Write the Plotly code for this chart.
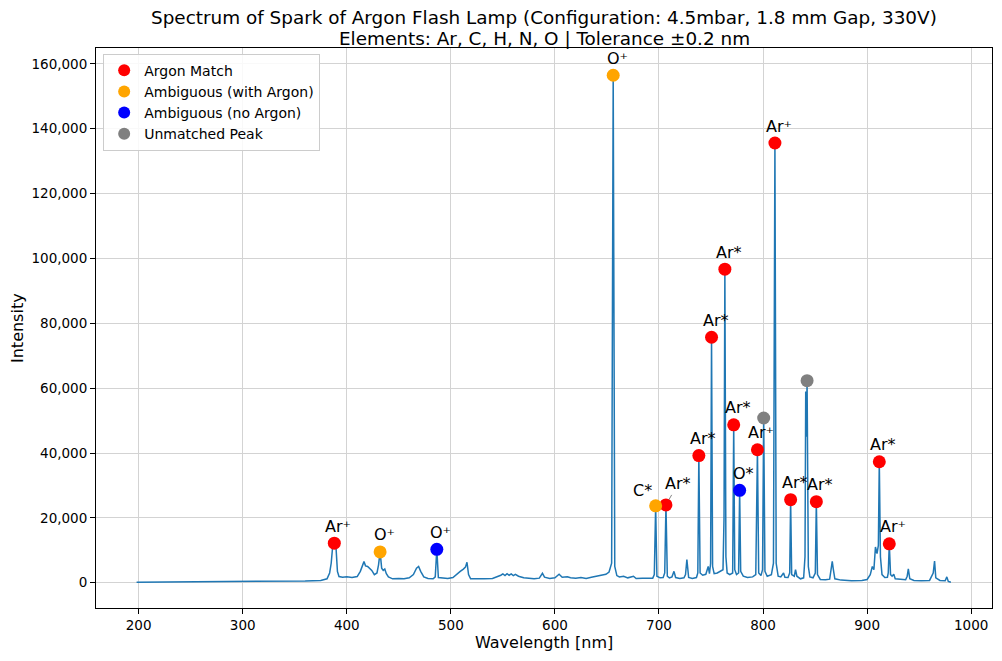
import plotly.graph_objects as go

# ---------------- spectrum ----------------
spectrum_wl = [
    198, 220, 250, 280, 310, 340, 360, 375, 381, 383.5, 385, 386.5, 388, 389.5, 391, 392.5,
    396, 400, 405, 410, 413, 416.5, 418, 420, 422, 424, 426.5, 429, 430.5, 432, 433.5, 435,
    436.5, 438, 440, 444, 450, 455, 460, 464, 467, 469, 471, 474, 478, 483, 485, 486.5, 488,
    492, 497, 502, 506, 509, 512, 514, 515.5, 517, 519, 525, 532, 540, 545, 548, 550, 552,
    554, 556, 558, 560, 562, 565, 570, 575, 580, 585, 588, 590, 595, 600, 604, 607, 612, 615,
    620, 625, 630, 635, 640, 645, 649, 652, 654.5, 656, 657.5, 659.5, 662, 666, 670, 675.5,
    678, 684, 690, 694, 695.5, 696.8, 698, 701, 704, 705.5, 706.7, 708, 710, 712.5, 714.4,
    716, 720, 724, 725.5, 726.8, 728.5, 732, 736, 737.3, 738.3, 739.5, 742, 745, 747.3,
    748.5, 749.6, 750.5, 751.5, 753, 756, 759, 761.5, 762.5, 763.3, 764.3, 765.5, 768,
    770.8, 771.8, 772.8, 774.5, 776.5, 777.5, 778.5, 781, 785, 790, 793, 794.6, 795.8, 798,
    799.5, 800.6, 801.8, 804, 808, 810, 811.4, 812.6, 814.5, 817, 819.7, 821, 824, 825.6,
    826.5, 827.5, 830, 831.2, 832.5, 836, 839, 840.3, 841.0, 841.6, 842.3, 843.5, 845, 848,
    850.2, 851.2, 852.3, 855, 860, 864, 865.5, 866.5, 867.5, 869, 875, 885, 895, 900, 903,
    905, 906.5, 908, 909.5, 910.8, 911.7, 912.8, 914.3, 917, 919.5, 920.3, 921.3, 922.5,
    924, 925.6, 927, 933, 937, 938.5, 939.6, 941, 945, 952, 960, 963.5, 964.8, 966, 970,
    975, 976.6, 978, 980.5,
]
spectrum_int = [
    150, 180, 220, 280, 350, 450, 550, 700, 1200, 3000, 6000, 11500, 12200, 11600, 3500, 1900,
    1700, 1800, 1600, 1900, 3500, 6500, 5200, 5000, 4300, 3800, 2500, 3000, 5500, 9500, 4500, 3800,
    4200, 2800, 1800, 1200, 1300, 1200, 1500, 2500, 4500, 5000, 3500, 1800, 1300, 1200, 1800, 10300, 1600,
    1400, 1300, 1600, 2800, 3500, 4200, 4800, 6300, 2500, 1200, 1100, 1200, 1300, 1800, 2300, 2700, 2200,
    2800, 2300, 2700, 2200, 2600, 2000, 1500, 1300, 1200, 1400, 2900, 1700, 1300, 1500, 2600, 1700, 1800, 1500,
    1400, 1600, 1300, 1700, 2000, 2300, 2600, 3300, 6000, 156500, 5000, 2200, 1800, 2000, 1500, 2000,
    1300, 1400, 1300, 1400, 2500, 23700, 2000, 1500, 1600, 3000, 24000, 2000, 1500, 1800, 3500,
    1600, 1300, 1500, 2500, 7100, 1600, 1300, 1600, 3000, 39200, 3000, 2300, 2600, 5000,
    2800, 6000, 75700, 5000, 2800, 3000, 3500, 4000, 20000, 96700, 8000, 3000, 2500,
    3000, 48700, 4000, 2500, 3000, 28500, 3500, 2000, 1600, 1800, 2500, 41000, 3000, 2200,
    4000, 50800, 3500, 2000, 2500, 6000, 135600, 6000, 2000, 1800, 3000, 1700, 1600, 3000,
    25600, 2500, 2000, 4000, 2000, 1200, 1500, 8000, 59000, 45000, 62300, 5000, 1800, 1500,
    3000, 25000, 2500, 1000, 900, 1100, 4000, 6600, 4200, 1200, 800, 600, 700, 1000, 2500,
    5000, 4000, 11000, 9000, 11500, 37300, 8000, 2500, 1600, 1700, 3000, 12000, 2500,
    2000, 2600, 1200, 1000, 900, 2000, 4300, 1200, 700, 600, 700, 3000, 6700, 1500, 700,
    600, 1800, 400, 150,
]

# ---------------- identified peaks ----------------
argon_wl = [388, 706.7, 738.3, 750.5, 763.3, 771.8, 794.6, 811.4, 826.5, 851.2, 911.7, 921.3]
argon_int = [12200, 24000, 39200, 75700, 96700, 48700, 41000, 135600, 25600, 25000, 37300, 12000]
argon_lbl = ["Ar⁺", "Ar*", "Ar*", "Ar*", "Ar*", "Ar*", "Ar⁺", "Ar⁺", "Ar*", "Ar*", "Ar*", "Ar⁺"]

amb_ar_wl = [432, 656, 696.8]
amb_ar_int = [9500, 156500, 23700]
amb_ar_lbl = ["O⁺", "O⁺", "C*"]

amb_noar_wl = [486.5, 777.5]
amb_noar_int = [10300, 28500]
amb_noar_lbl = ["O⁺", "O*"]

unmatched_wl = [800.6, 842.3]
unmatched_int = [50800, 62300]

x_ticks = [200, 300, 400, 500, 600, 700, 800, 900, 1000]
y_ticks = [0, 20000, 40000, 60000, 80000, 100000, 120000, 140000, 160000]

FONT = "DejaVu Sans"

fig = go.Figure()
fig.add_trace(go.Scatter(x=spectrum_wl, y=spectrum_int, mode="lines",
                         line=dict(color="#1f77b4", width=1.5), showlegend=False,
                         hoverinfo="skip"))

groups = [
    ("Argon Match", "#ff0000", argon_wl, argon_int),
    ("Ambiguous (with Argon)", "#ffa500", amb_ar_wl, amb_ar_int),
    ("Ambiguous (no Argon)", "#0000ff", amb_noar_wl, amb_noar_int),
    ("Unmatched Peak", "#808080", unmatched_wl, unmatched_int),
]
for name, col, wl, it in groups:
    fig.add_trace(go.Scatter(x=wl, y=it, mode="markers", name=name,
                             marker=dict(color=col, size=13, line=dict(width=0))))

# label offsets (px) – layout only
special = {696.8: (-13, 15)}
annotations = []
for wl, it, lbl in (list(zip(argon_wl, argon_int, argon_lbl)) +
                    list(zip(amb_ar_wl, amb_ar_int, amb_ar_lbl)) +
                    list(zip(amb_noar_wl, amb_noar_int, amb_noar_lbl))):
    if wl == 706.7:
        annotations.append(dict(x=wl, y=it, xref="x", yref="y", text=lbl,
                                showarrow=True, arrowhead=0, arrowwidth=0.8,
                                arrowcolor="#666666", ax=12, ay=-21, standoff=6,
                                font=dict(family=FONT, size=16, color="black")))
        continue
    dx, dy = special.get(wl, (4, 17))
    annotations.append(dict(x=wl, y=it, xref="x", yref="y", text=lbl, showarrow=False,
                            xshift=dx, yshift=dy, xanchor="center", yanchor="middle",
                            font=dict(family=FONT, size=16, color="black")))

annotations += [
    dict(text="Spectrum of Spark of Argon Flash Lamp (Configuration: 4.5mbar, 1.8 mm Gap, 330V)",
         xref="paper", yref="paper", x=0.5, y=1, yshift=31, showarrow=False, borderpad=0,
         xanchor="center", yanchor="middle", font=dict(family=FONT, size=18.4, color="black")),
    dict(text="Elements: Ar, C, H, N, O | Tolerance ±0.2 nm",
         xref="paper", yref="paper", x=0.5, y=1, yshift=10, showarrow=False, borderpad=0,
         xanchor="center", yanchor="middle", font=dict(family=FONT, size=18.4, color="black")),
    dict(text="Wavelength [nm]", xref="paper", yref="paper", x=0.5, y=0, yshift=-34,
         showarrow=False, xanchor="center", yanchor="middle",
         font=dict(family=FONT, size=16, color="black")),
    dict(text="Intensity", xref="paper", yref="paper", x=0, y=0.5, xshift=-79,
         showarrow=False, xanchor="center", yanchor="middle", textangle=-90,
         font=dict(family=FONT, size=16, color="black")),
]

axis_common = dict(showline=True, linecolor="black", linewidth=1, mirror=True,
                   ticks="outside", ticklen=5, tickcolor="black", tickwidth=1,
                   showgrid=True, gridcolor="#d3d3d3", gridwidth=1, zeroline=False,
                   automargin=False,
                   tickfont=dict(family=FONT, size=13.5, color="black"))

fig.update_layout(
    width=1002, height=661,
    margin=dict(l=96, r=10, t=48, b=53),
    paper_bgcolor="white", plot_bgcolor="white",
    font=dict(family=FONT, color="black"),
    xaxis=dict(range=[159, 1020], tickvals=x_ticks, **axis_common),
    yaxis=dict(range=[-7800, 164900], tickvals=y_ticks, tickformat=",d", **axis_common),
    legend=dict(x=0.008, y=0.99, xanchor="left", yanchor="top",
                bgcolor="rgba(255,255,255,0.85)", bordercolor="#cccccc", borderwidth=1,
                font=dict(family=FONT, size=14, color="black"), itemsizing="constant"),
    annotations=annotations,
    showlegend=True,
)

fig.write_html("out.html", config={"displayModeBar": False})

# remove the default page margin so the figure sits at the window's top-left corner
with open("out.html", "r", encoding="utf-8") as f:
    html = f.read()
html = html.replace("<body>", '<body style="margin:0;padding:0;">', 1)
with open("out.html", "w", encoding="utf-8") as f:
    f.write(html)
